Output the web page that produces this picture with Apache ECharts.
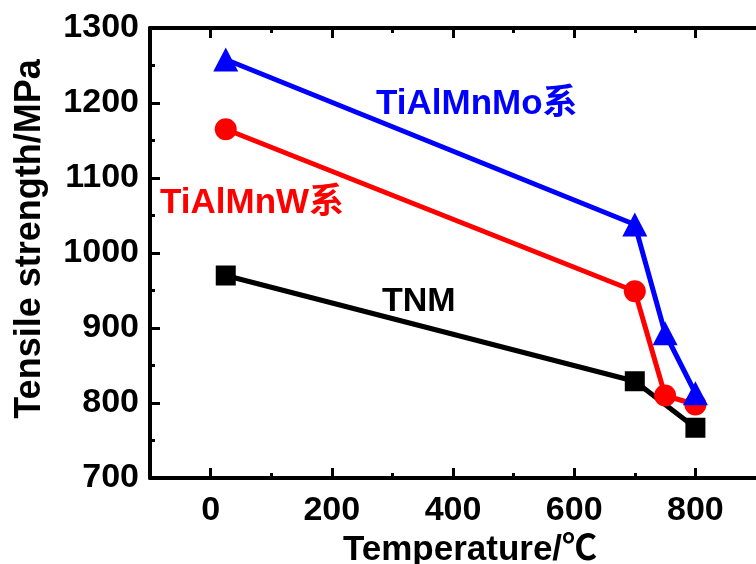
<!DOCTYPE html>
<html>
<head>
<meta charset="utf-8">
<script src="https://cdn.jsdelivr.net/npm/echarts@6/dist/echarts.min.js"></script>
<style>
  html, body { margin: 0; padding: 0; background: #fff; }
  #chart { width: 756px; height: 564px; }
</style>
</head>
<body>
<div id="chart"></div>
<script>
// Test temperatures (°C) and tensile strength (MPa) of each alloy family
const tempsMo = [25, 700, 750, 800];
const strengthMo = [1258, 1038, 893, 813];
const tempsW = [25, 700, 750, 800];
const strengthW = [1165, 949, 810, 798];
const tempsTNM = [25, 700, 800];
const strengthTNM = [970, 829, 767];

const xMajorTicks = [0, 200, 400, 600, 800];
const xMinorTicks = [100, 300, 500, 700];

const FONT = '"Liberation Sans", Arial, "Noto Sans CJK SC", sans-serif';

function pairs(xs, ys) { return xs.map((x, i) => [x, ys[i]]); }

const chart = echarts.init(document.getElementById('chart'), null, { renderer: 'canvas' });

const axisLineStyle = { color: '#000', width: 4 };
const xBase = { type: 'value', min: -100, max: 900, splitLine: { show: false } };

function xAxisDef(position, ticks, len, showLine, showLabel) {
  return Object.assign({}, xBase, {
    position: position,
    axisLine: { show: showLine, onZero: false, lineStyle: axisLineStyle },
    axisTick: { show: true, inside: true, length: len, lineStyle: { color: '#000', width: 3 }, customValues: ticks },
    axisLabel: showLabel
      ? { show: true, customValues: ticks, margin: 16, color: '#000', fontFamily: FONT, fontWeight: 'bold', fontSize: 34 }
      : { show: false }
  });
}

const option = {
  backgroundColor: '#fff',
  animation: false,
  grid: { left: 150, top: 28, width: 616, height: 450, containLabel: false },
  xAxis: [
    xAxisDef('bottom', xMajorTicks, 10, true, true),
    xAxisDef('bottom', xMinorTicks, 5, false, false),
    xAxisDef('top', xMajorTicks, 10, true, false),
    xAxisDef('top', xMinorTicks, 5, false, false)
  ],
  yAxis: {
    type: 'value',
    min: 700,
    max: 1300,
    interval: 100,
    position: 'left',
    splitLine: { show: false },
    axisLine: { show: true, onZero: false, lineStyle: axisLineStyle },
    axisTick: { show: true, inside: true, length: 10, lineStyle: { color: '#000', width: 3 } },
    minorTick: { show: true, splitNumber: 2, length: 5, lineStyle: { color: '#000', width: 3 } },
    axisLabel: { margin: 11, color: '#000', fontFamily: FONT, fontWeight: 'bold', fontSize: 34, formatter: v => String(v) }
  },
  graphic: [
    {
      type: 'text', x: 30, y: 239, rotation: Math.PI / 2,
      style: { text: 'Tensile strength/MPa', fill: '#000', font: 'bold 36px ' + FONT, textAlign: 'center', textVerticalAlign: 'middle' }
    },
    {
      type: 'text', x: 470, y: 550,
      style: { text: 'Temperature/℃', fill: '#000', font: 'bold 35px ' + FONT, textAlign: 'center', textVerticalAlign: 'middle' }
    },
    {
      type: 'text', x: 376, y: 104,
      style: { text: 'TiAlMnMo系', fill: '#0000ff', font: 'bold 35px ' + FONT, textAlign: 'left', textVerticalAlign: 'middle' }
    },
    {
      type: 'text', x: 160, y: 203,
      style: { text: 'TiAlMnW系', fill: '#ff0000', font: 'bold 35px ' + FONT, textAlign: 'left', textVerticalAlign: 'middle' }
    },
    {
      type: 'text', x: 382, y: 302,
      style: { text: 'TNM', fill: '#000', font: 'bold 34px ' + FONT, textAlign: 'left', textVerticalAlign: 'middle' }
    }
  ],
  series: [
    {
      name: 'TNM', type: 'line', xAxisIndex: 0,
      data: pairs(tempsTNM, strengthTNM),
      symbol: 'rect', symbolSize: 20,
      lineStyle: { color: '#000', width: 5 },
      itemStyle: { color: '#000' },
      z: 2
    },
    {
      name: 'TiAlMnW', type: 'line', xAxisIndex: 0,
      data: pairs(tempsW, strengthW),
      symbol: 'circle', symbolSize: 22,
      lineStyle: { color: '#ff0000', width: 5 },
      itemStyle: { color: '#ff0000' },
      z: 3
    },
    {
      name: 'TiAlMnMo', type: 'line', xAxisIndex: 0,
      data: pairs(tempsMo, strengthMo),
      symbol: 'triangle', symbolSize: [25, 24],
      lineStyle: { color: '#0000ff', width: 5 },
      itemStyle: { color: '#0000ff' },
      z: 4
    }
  ]
};

chart.setOption(option);
</script>
</body>
</html>
